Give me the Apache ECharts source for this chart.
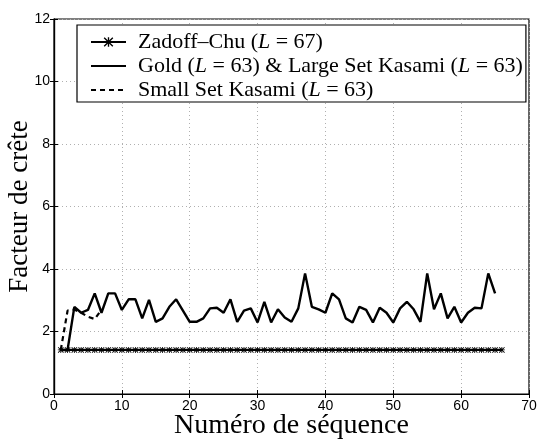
<!DOCTYPE html>
<html><head><meta charset="utf-8">
<script src="https://cdn.jsdelivr.net/npm/echarts@6/dist/echarts.min.js"></script>
<style>html,body{margin:0;padding:0;background:#fff}#c{width:538px;height:439px}</style>
</head><body><div id="c"></div>
<script>
var zcX = [];
for (var k = 1; k <= 66; k++) zcX.push(k);
var zcY = [1.41,1.41,1.41,1.41,1.41,1.41,1.41,1.41,1.41,1.41,1.41,1.41,1.41,1.41,1.41,1.41,1.41,1.41,1.41,1.41,1.41,1.41,1.41,1.41,1.41,1.41,1.41,1.41,1.41,1.41,1.41,1.41,1.41,1.41,1.41,1.41,1.41,1.41,1.41,1.41,1.41,1.41,1.41,1.41,1.41,1.41,1.41,1.41,1.41,1.41,1.41,1.41,1.41,1.41,1.41,1.41,1.41,1.41,1.41,1.41,1.41,1.41,1.41,1.41,1.41,1.41];
var goldY = [1.41,1.41,2.79,2.6,2.69,3.22,2.6,3.22,3.22,2.69,3.03,3.03,2.42,3.01,2.31,2.42,2.79,3.03,2.67,2.31,2.31,2.42,2.74,2.76,2.6,3.03,2.31,2.67,2.74,2.29,2.95,2.29,2.71,2.45,2.31,2.74,3.86,2.79,2.71,2.6,3.22,3.03,2.42,2.29,2.79,2.69,2.29,2.76,2.6,2.29,2.74,2.95,2.71,2.31,3.86,2.71,3.22,2.42,2.79,2.29,2.6,2.76,2.74,3.86,3.22];
var smallY = [1.41,2.67,2.7,2.6,2.47,2.4,2.7];
var xTicks = [0,10,20,30,40,50,60,70];
var yTicks = [0,2,4,6,8,10,12];

function pairs(ys){ return ys.map(function(v,i){ return [i+1, v]; }); }
var names = ['Zadoff–Chu (L = 67)','Gold (L = 63) & Large Set Kasami (L = 63)','Small Set Kasami (L = 63)'];
var star = 'path://M0,1L1,0L5,4L9,0L10,1L6,5L10,9L9,10L5,6L1,10L0,9L4,5Z M0,4.3L10,4.3L10,5.7L0,5.7Z M4.3,0L5.7,0L5.7,10L4.3,10Z';

var chart = echarts.init(document.getElementById('c'), null, {renderer:'canvas'});
var gridCol = '#b0b0b0';
var FS = 22, LH = 22;
chart.setOption({
  animation:false,
  backgroundColor:'#fff',
  grid:{left:54, right:9, top:19, bottom:45, show:true, borderColor:'#000', borderWidth:1.2,
        containLabel:false, outerBoundsMode:'none'},
  legend:{
    left:77, top:25, orient:'vertical', itemWidth:35, itemHeight:12, itemGap:2,
    backgroundColor:'#fff', borderColor:'#000', borderWidth:1.2,
    padding:[6,3,1,13],
    data:[
      {name:names[0]},
      {name:names[1], itemStyle:{opacity:0}},
      {name:names[2], itemStyle:{opacity:0}}
    ],
    formatter:function(n){
      if (n.indexOf('&')>=0) return '{s|}{n|Gold (}{i|L}{e| = }{n|63) & Large Set Kasami (}{i|L}{e| = }{n|63)}';
      var p = n.split('L = ');
      return '{s|}{n|' + p[0] + '}{i|L}{e| = }{n|' + p[1] + '}';
    },
    textStyle:{lineHeight:LH, rich:{
      s:{width:7},
      n:{fontFamily:'Liberation Serif', fontSize:FS, lineHeight:LH, color:'#000'},
      e:{fontFamily:'Liberation Serif', fontSize:FS, lineHeight:LH, color:'#000'},
      i:{fontFamily:'Liberation Serif', fontStyle:'italic', fontSize:FS, lineHeight:LH, color:'#000'}
    }}
  },
  xAxis:[{
    type:'value', min:0, max:70, interval:10,
    name:'Numéro de séquence', nameLocation:'middle', nameGap:18, nameMoveOverlap:false,
    nameTextStyle:{fontFamily:'Liberation Serif', fontSize:28, color:'#000'},
    axisLine:{show:true, lineStyle:{color:'#000', width:1.2}},
    axisTick:{show:true, inside:true, length:4, lineStyle:{color:'#000'}},
    axisLabel:{fontFamily:'Liberation Sans', fontSize:14, color:'#000', margin:5},
    splitLine:{show:true, lineStyle:{color:gridCol, type:[1,3], width:1}}
  },{
    type:'value', min:0, max:70, interval:10, position:'top',
    axisLine:{show:true, lineStyle:{color:'#000', width:1.2}},
    axisTick:{show:true, inside:true, length:4, lineStyle:{color:'#000'}},
    axisLabel:{show:false}, splitLine:{show:false}
  }],
  yAxis:[{
    type:'value', min:0, max:12, interval:2,
    name:'Facteur de crête', nameLocation:'middle', nameGap:21, nameMoveOverlap:false,
    nameTextStyle:{fontFamily:'Liberation Serif', fontSize:27, color:'#000'},
    axisLine:{show:true, lineStyle:{color:'#000', width:1.2}},
    axisTick:{show:true, inside:true, length:4, lineStyle:{color:'#000'}},
    axisLabel:{fontFamily:'Liberation Sans', fontSize:14, color:'#000', margin:4},
    splitLine:{show:true, lineStyle:{color:gridCol, type:[1,3], width:1}}
  },{
    type:'value', min:0, max:12, interval:2, position:'right',
    axisLine:{show:true, lineStyle:{color:'#000', width:1.2}},
    axisTick:{show:true, inside:true, length:4, lineStyle:{color:'#000'}},
    axisLabel:{show:false}, splitLine:{show:false}
  }],
  series:[
    {name:names[0], type:'line', data:zcX.map(function(x,i){return [x, zcY[i]];}),
     symbol:star, symbolSize:6, showSymbol:true, z:5,
     itemStyle:{color:'#000'}, lineStyle:{color:'#000', width:2.2}},
    {name:names[1], type:'line', data:pairs(goldY), symbol:'none', z:4,
     itemStyle:{color:'#000'}, lineStyle:{color:'#000', width:2.4}},
    {name:names[2], type:'line', data:pairs(smallY), symbol:'none', z:3,
     itemStyle:{color:'#000'}, lineStyle:{color:'#000', width:2.2, type:[5,4]}}
  ]
});
</script></body></html>
